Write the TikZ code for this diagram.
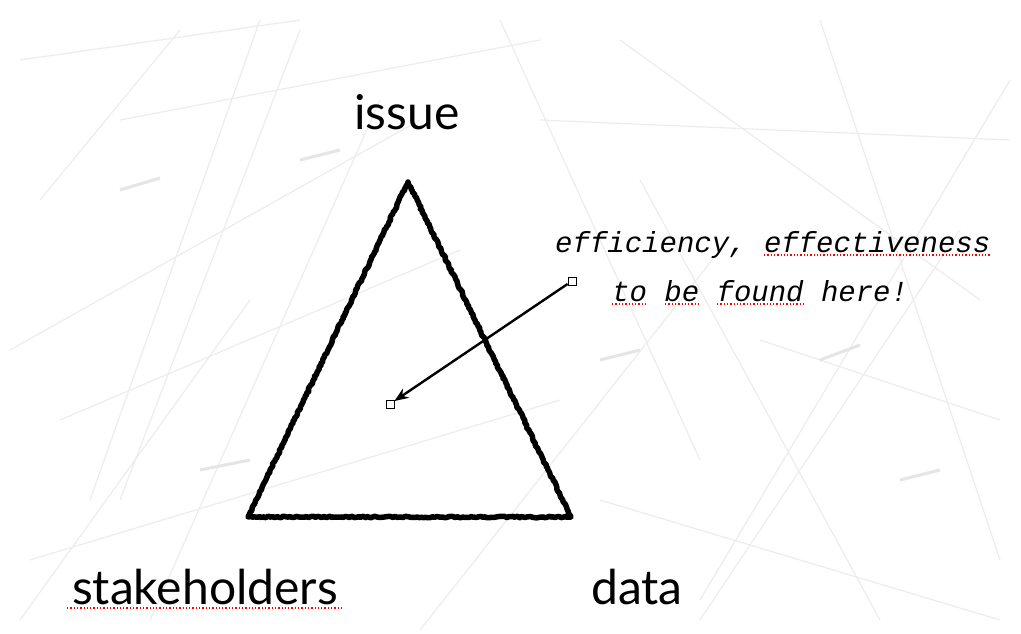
\documentclass[tikz,border=0pt]{standalone}
\usepackage{fontspec}
\setmainfont{Lato}
\newfontfamily\handfont{Liberation Mono}
\usetikzlibrary{decorations.pathmorphing,arrows.meta}
\begin{document}
\begin{tikzpicture}[x=1pt,y=-1pt,
  bgline/.style={draw=black!7,line width=1.2pt},
  sketch/.style={draw=black,line width=5.5pt,line join=round,decorate,decoration={random steps,segment length=2pt,amplitude=0.8pt}},
  label/.style={font=\fontsize{48}{52}\selectfont,inner sep=0pt,anchor=base},
  hand/.style={font=\fontsize{29}{32}\selectfont\handfont\itshape,inner sep=0pt,anchor=base west},
  marker/.style={draw=black,fill=white,line width=0.8pt,minimum size=8pt,inner sep=0pt},
  spell/.style={draw=red,line width=1.3pt,dotted}]
\useasboundingbox (0,0) rectangle (1021,634);
\fill[white] (0,0) rectangle (1021,634);
% faint background scribbles
\foreach \a/\b/\c/\d in {20/60/300/20, 40/200/180/30, 90/500/260/20, 10/350/420/120, 300/30/120/500,
  150/620/380/100, 500/20/700/460, 620/40/980/300, 700/600/1010/80, 820/20/1000/560, 880/620/640/180,
  540/120/1010/140, 30/560/560/400, 250/300/20/620, 760/340/1000/420, 420/630/720/250,
  600/500/1000/620, 120/120/540/40, 960/230/700/620, 60/420/460/250}
  \draw[bgline] (\a,\b) -- (\c,\d);
\foreach \a/\b/\c/\d in {600/360/640/350, 820/360/860/345, 300/160/340/150, 120/190/160/178, 900/480/940/470, 200/470/250/460}
  \draw[draw=black!10,line width=3pt] (\a,\b) -- (\c,\d);
% triangle
\coordinate (top) at (408,182);
\coordinate (bl) at (248,517);
\coordinate (br) at (571,517);
\draw[sketch] (top) -- (br) -- (bl) -- cycle;
% labels
\node[label] (issue) at (407,129) {issue};
\node[label] (stake) at (205,604) {stakeholders};
\node[label] (data) at (637,604) {data};
\node[hand] (t1) at (555,252) {efficiency, effectiveness};
\node[hand] (t2) at (612,301) {to be found here!};
% spell-check underlines
\draw[spell] (67,608) -- (342,608);
\draw[spell] (764,255) -- (990,255);
\draw[spell] (612,304) -- (647,304);
\draw[spell] (665,304) -- (700,304);
\draw[spell] (717,304) -- (804,304);
% arrow
\node[marker] (m1) at (572,281) {};
\node[marker] (m2) at (390,404) {};
\draw[line width=2.4pt,-{Stealth[length=14pt,width=11pt]}] (m1) -- (m2);
\end{tikzpicture}
\end{document}
